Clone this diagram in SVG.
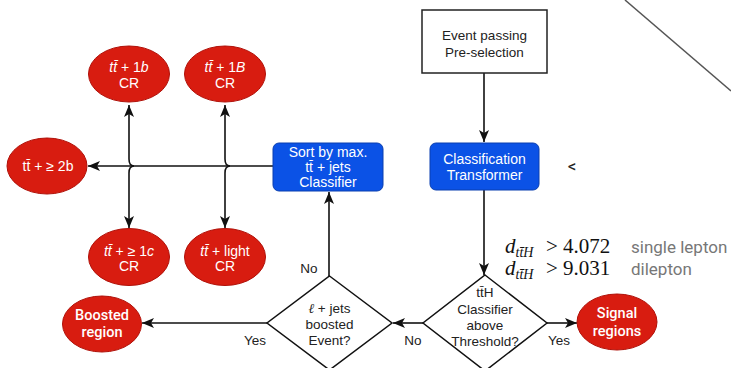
<svg xmlns="http://www.w3.org/2000/svg" width="731" height="368" viewBox="0 0 731 368">
  <style>
    .lbl { font-family: "Liberation Sans", Arial, sans-serif; font-size: 13.5px; fill: #222; text-anchor: middle; }
    .wht { font-family: "Liberation Sans", Arial, sans-serif; font-size: 14px; fill: #fff; text-anchor: middle; }
    .bold { font-family: Roboto, "Liberation Sans", sans-serif; font-size: 14.5px; font-weight: 500; fill: #fff; text-anchor: middle; }
    .red { fill: #d81c10; stroke: #b01008; stroke-width: 1; }
    .blue { fill: #0b52e6; stroke: #0a3fb0; stroke-width: 1; }
    .box { fill: #fff; stroke: #222; stroke-width: 1.5; }
    .dia { fill: #fff; stroke: #111; stroke-width: 1.5; }
    .edge { fill: none; stroke: #111; stroke-width: 1.6; }
    .math { font-family: "Liberation Serif", "Times New Roman", serif; font-size: 21px; fill: #111; }
    .note { font-family: Roboto, "Liberation Sans", sans-serif; font-size: 17px; fill: #777; }
  </style>
  <defs>
    <marker id="arrw" viewBox="0 0 12 10" refX="12" refY="5" markerWidth="12" markerHeight="10" markerUnits="userSpaceOnUse" orient="auto">
      <path d="M0,0 L12,5 L0,10 L3,5 Z" fill="#111"/>
    </marker>
  </defs>

  <rect width="731" height="368" fill="#fff"/>

  <!-- decorative diagonal stroke, top right -->
  <line x1="625" y1="0" x2="731" y2="91" stroke="#555" stroke-width="1.5"/>

  <!-- connectors -->
  <g id="connectors">
    <line class="edge" x1="484" y1="73" x2="484" y2="142" marker-end="url(#arrw)"/>
    <line class="edge" x1="484" y1="190" x2="484" y2="275" marker-end="url(#arrw)"/>
    <line class="edge" x1="423" y1="323" x2="393" y2="323" marker-end="url(#arrw)"/>
    <line class="edge" x1="547" y1="323" x2="577" y2="323" marker-end="url(#arrw)"/>
    <line class="edge" x1="267" y1="323" x2="142" y2="323" marker-end="url(#arrw)"/>
    <line class="edge" x1="329" y1="276" x2="329" y2="192" marker-end="url(#arrw)"/>
    <line class="edge" x1="273" y1="166" x2="88" y2="166" marker-end="url(#arrw)"/>
    <!-- vertical branches, each hopping over the horizontal trunk -->
    <path class="edge" d="M129,159 L129,105" marker-end="url(#arrw)"/>
    <path class="edge" d="M129,173 L129,228" marker-end="url(#arrw)"/>
    <path class="edge" d="M225,159 L225,105" marker-end="url(#arrw)"/>
    <path class="edge" d="M225,173 L225,228" marker-end="url(#arrw)"/>
    <path class="edge" d="M129,159 Q129,166 134,166 Q129,166 129,173"/>
    <path class="edge" d="M225,159 Q225,166 230,166 Q225,166 225,173"/>
    <text class="lbl" x="309" y="273">No</text>
    <text class="lbl" x="413" y="345">No</text>
    <text class="lbl" x="255" y="345">Yes</text>
    <text class="lbl" x="559" y="345">Yes</text>
  </g>

  <g id="preselection">
    <rect class="box" x="422" y="10" width="125" height="63"/>
    <text class="lbl" x="484.5" y="40" font-size="14.5">Event passing</text>
    <text class="lbl" x="484.5" y="57" font-size="14.5">Pre-selection</text>
  </g>

  <g id="transformer">
    <rect class="blue" x="430" y="143" width="109" height="47" rx="6"/>
    <text class="wht" x="484.5" y="164" font-size="15">Classification</text>
    <text class="wht" x="484.5" y="180" font-size="15">Transformer</text>
  </g>

  <text x="572" y="172" font-family="Roboto, 'Liberation Sans', sans-serif" font-size="17" fill="#222" text-anchor="middle">&lt;</text>

  <g id="sort">
    <rect class="blue" x="273" y="143" width="110" height="48" rx="6"/>
    <text class="wht" x="328" y="157">Sort by max.</text>
    <text class="wht" x="328" y="172">tt̄ + jets</text>
    <text class="wht" x="328" y="187">Classifier</text>
  </g>

  <g id="threshold">
    <polygon class="dia" points="485,275 547,323 485,371 423,323"/>
    <text class="lbl" x="485" y="297">tt̄H</text>
    <text class="lbl" x="485" y="314">Classifier</text>
    <text class="lbl" x="485" y="330">above</text>
    <text class="lbl" x="485" y="346">Threshold?</text>
  </g>

  <g id="boosted-check">
    <polygon class="dia" points="329.5,276 392,323 329.5,370 267,323"/>
    <text class="lbl" x="329.5" y="313" font-size="14"><tspan font-family="'Liberation Serif', serif" font-style="italic">ℓ</tspan> + jets</text>
    <text class="lbl" x="329.5" y="329" font-size="14">boosted</text>
    <text class="lbl" x="329.5" y="345" font-size="14">Event?</text>
  </g>

  <g id="cr-1b">
    <ellipse class="red" cx="129" cy="74" rx="40.5" ry="28"/>
    <text class="wht" x="129" y="72"><tspan font-style="italic">tt̄</tspan> + 1<tspan font-style="italic">b</tspan></text>
    <text class="wht" x="129" y="88">CR</text>
  </g>

  <g id="cr-1B">
    <ellipse class="red" cx="225" cy="74" rx="40.5" ry="28"/>
    <text class="wht" x="225" y="72"><tspan font-style="italic">tt̄</tspan> + 1<tspan font-style="italic">B</tspan></text>
    <text class="wht" x="225" y="88">CR</text>
  </g>

  <g id="cr-2b">
    <ellipse class="red" cx="47" cy="166" rx="40" ry="28"/>
    <text class="wht" x="48" y="171" font-size="16">tt̄ + ≥ 2b</text>
  </g>

  <g id="cr-1c">
    <ellipse class="red" cx="129" cy="257" rx="40.5" ry="28.5"/>
    <text class="wht" x="129" y="256"><tspan font-style="italic">tt̄</tspan> + ≥ 1<tspan font-style="italic">c</tspan></text>
    <text class="wht" x="129" y="271">CR</text>
  </g>

  <g id="cr-light">
    <ellipse class="red" cx="225" cy="257" rx="40.5" ry="28.5"/>
    <text class="wht" x="225" y="256"><tspan font-style="italic">tt̄</tspan> + light</text>
    <text class="wht" x="225" y="271">CR</text>
  </g>

  <g id="boosted-region">
    <ellipse class="red" cx="102" cy="324" rx="39.5" ry="28"/>
    <text class="bold" x="102" y="320">Boosted</text>
    <text class="bold" x="102" y="337">region</text>
  </g>

  <g id="signal-regions">
    <ellipse class="red" cx="617" cy="322" rx="40" ry="28"/>
    <text class="bold" x="617" y="318">Signal</text>
    <text class="bold" x="617" y="336">regions</text>
  </g>

  <g id="thresholds">
    <text class="math" x="505" y="253"><tspan font-style="italic">d</tspan><tspan font-size="14" font-style="italic" dy="4">tt̄H</tspan><tspan x="546" dy="-4">&gt;</tspan><tspan x="563">4.072</tspan></text>
    <text class="math" x="505" y="275"><tspan font-style="italic">d</tspan><tspan font-size="14" font-style="italic" dy="4">tt̄H</tspan><tspan x="546" dy="-4">&gt;</tspan><tspan x="563">9.031</tspan></text>
    <text class="note" x="631" y="253">single lepton</text>
    <text class="note" x="631" y="275">dilepton</text>
  </g>
</svg>
